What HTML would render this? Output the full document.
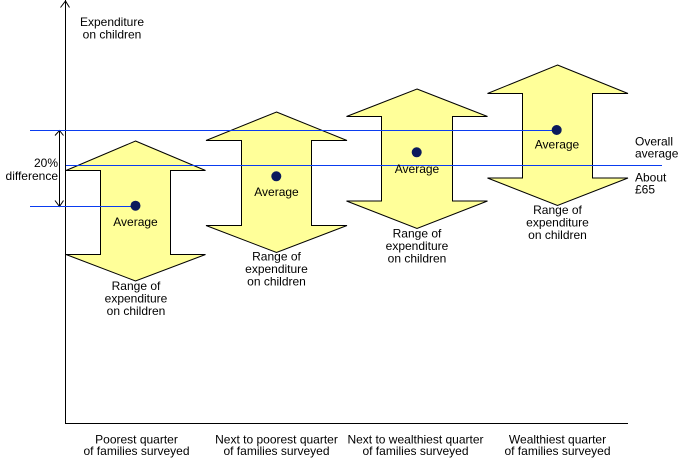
<!DOCTYPE html>
<html>
<head>
<meta charset="utf-8">
<style>
  html, body { margin: 0; padding: 0; background: #ffffff; }
  svg { display: block; }
  text { font-family: "Liberation Sans", Arial, sans-serif; font-size: 12px; fill: #000; }
</style>
</head>
<body>
<svg width="685" height="475" viewBox="0 0 685 475" xmlns="http://www.w3.org/2000/svg">
  <rect x="0" y="0" width="685" height="475" fill="#ffffff"/>

  <!-- Arrows -->
  <g fill="#ffff99" stroke="#000" stroke-width="1" stroke-linejoin="miter">
    <!-- A1 -->
    <polygon points="135.5,141 205.5,170.5 170.5,170.5 170.5,254.5 205.5,254.5 135.5,281 66,254.5 100.5,254.5 100.5,170.5 66,170.5"/>
    <!-- A2 -->
    <polygon points="276.5,112 347,140.5 311.5,140.5 311.5,225.5 347,225.5 276.5,252.5 206,225.5 241.5,225.5 241.5,140.5 206,140.5"/>
    <!-- A3 -->
    <polygon points="417,89 487.5,116.5 452.5,116.5 452.5,201 487.5,201 417,228.5 346.5,201 381.5,201 381.5,116.5 346.5,116.5"/>
    <!-- A4 -->
    <polygon points="557.5,65 628,93.5 592.5,93.5 592.5,178 628,178 557.5,205.5 487.5,178 522.5,178 522.5,93.5 487.5,93.5"/>
  </g>

  <!-- Axes -->
  <g stroke="#000" stroke-width="1" fill="none">
    <line x1="65.5" y1="0" x2="65.5" y2="423.5"/>
    <line x1="65" y1="423.5" x2="628" y2="423.5"/>
    <polyline points="60.5,7.5 65.5,1 69.5,7.5"/>
    <!-- 20% difference double arrow -->
    <line x1="59.5" y1="130.5" x2="59.5" y2="206.5"/>
    <polyline points="55,135.5 59.5,130.5 63.5,135.5"/>
    <polyline points="55,200.5 59.5,206.5 63.5,200.5"/>
  </g>

  <!-- Blue lines -->
  <g stroke="#0a3cf0" stroke-width="1">
    <line x1="30" y1="130.5" x2="557" y2="130.5"/>
    <line x1="66" y1="165.5" x2="662" y2="165.5"/>
    <line x1="30" y1="206.5" x2="135" y2="206.5"/>
  </g>

  <!-- Dots -->
  <g fill="#0b1a5c">
    <circle cx="135.5" cy="205.7" r="5"/>
    <circle cx="276.3" cy="176.3" r="5"/>
    <circle cx="416.7" cy="152.3" r="5"/>
    <circle cx="556.7" cy="130" r="5"/>
  </g>

  <!-- Axis label -->
  <text x="112" y="26" text-anchor="middle">Expenditure</text>
  <text x="112" y="38.5" text-anchor="middle">on children</text>

  <!-- 20% difference -->
  <text x="58" y="167" text-anchor="end">20%</text>
  <text x="58" y="180" text-anchor="end">difference</text>

  <!-- Average labels -->
  <text x="135.5" y="226" text-anchor="middle">Average</text>
  <text x="276.5" y="196" text-anchor="middle">Average</text>
  <text x="417" y="173" text-anchor="middle">Average</text>
  <text x="557" y="148.5" text-anchor="middle">Average</text>

  <!-- Range labels -->
  <g text-anchor="middle">
    <text x="136" y="290">Range of</text>
    <text x="136" y="302.5">expenditure</text>
    <text x="136" y="315">on children</text>

    <text x="276.5" y="260.7">Range of</text>
    <text x="276.5" y="273.2">expenditure</text>
    <text x="276.5" y="285.7">on children</text>

    <text x="417" y="237.3">Range of</text>
    <text x="417" y="249.8">expenditure</text>
    <text x="417" y="262.3">on children</text>

    <text x="557.5" y="214">Range of</text>
    <text x="557.5" y="226.5">expenditure</text>
    <text x="557.5" y="239">on children</text>
  </g>

  <!-- Right labels -->
  <text x="635" y="145.5">Overall</text>
  <text x="635" y="157.5">average</text>
  <text x="635" y="181.5">About</text>
  <text x="635" y="193.5">£65</text>

  <!-- Category labels -->
  <g text-anchor="middle">
    <text x="136.5" y="443.3">Poorest quarter</text>
    <text x="136.5" y="455">of families surveyed</text>
    <text x="276.5" y="443.3">Next to poorest quarter</text>
    <text x="276.5" y="455">of families surveyed</text>
    <text x="415.5" y="443.3">Next to wealthiest quarter</text>
    <text x="415.5" y="455">of families surveyed</text>
    <text x="557.5" y="443.3">Wealthiest quarter</text>
    <text x="557.5" y="455">of families surveyed</text>
  </g>
</svg>
</body>
</html>
